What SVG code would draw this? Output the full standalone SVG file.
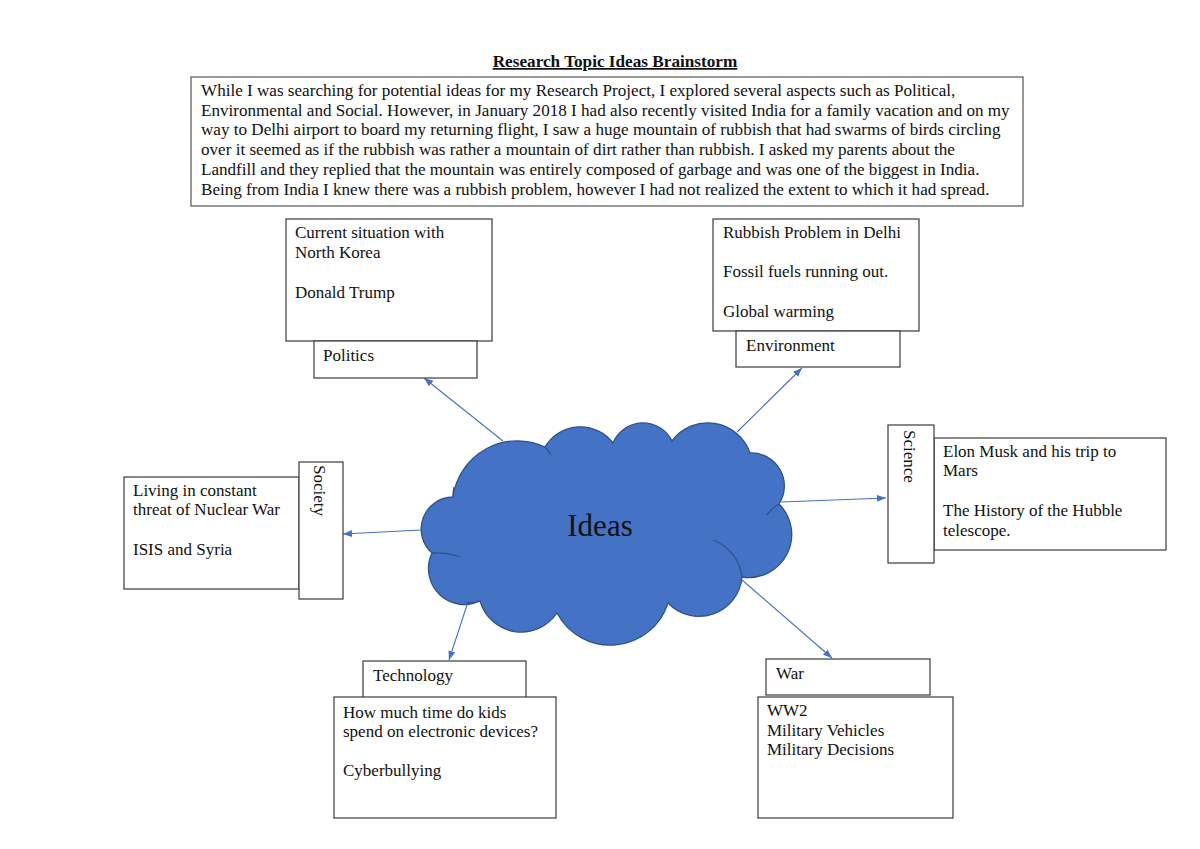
<svg xmlns="http://www.w3.org/2000/svg" width="1200" height="849" viewBox="0 0 1200 849">
<style>
text { font-family: "Liberation Serif", "Times New Roman", serif; font-size: 17px; fill: #111; }
.p { font-size: 17.1px; }
.box { fill: #fff; stroke: #3a3a3a; stroke-width: 1.2; }
.para { fill: #fff; stroke: #555; stroke-width: 1.2; }
.conn { stroke: #4472C4; stroke-width: 1.1; fill: none; marker-end: url(#arrow); }
.cloud { fill: #4472C4; stroke: #2F528F; stroke-width: 1.3; }
.inner { fill: none; stroke: #2F528F; stroke-width: 1.3; }
</style>
<defs>
<marker id="arrow" markerUnits="userSpaceOnUse" markerWidth="10" markerHeight="8" refX="9" refY="4" orient="auto">
<path d="M0,0.5 L9,4 L0,7.5 Z" fill="#4472C4"/>
</marker>
</defs>
<rect width="1200" height="849" fill="#fff"/>

<g id="title">
<text x="615" y="67" text-anchor="middle" font-weight="bold" text-decoration="underline" style="font-size:17.2px">Research Topic Ideas Brainstorm</text>
</g>

<g id="intro">
<rect class="para" x="191" y="77" width="832" height="129"/>
<text class="p" x="201" y="96">While I was searching for potential ideas for my Research Project, I explored several aspects such as Political,</text>
<text class="p" x="201" y="115.7">Environmental and Social. However, in January 2018 I had also recently visited India for a family vacation and on my</text>
<text class="p" x="201" y="135.4">way to Delhi airport to board my returning flight, I saw a huge mountain of rubbish that had swarms of birds circling</text>
<text class="p" x="201" y="155.1">over it seemed as if the rubbish was rather a mountain of dirt rather than rubbish. I asked my parents about the</text>
<text class="p" x="201" y="174.8">Landfill and they replied that the mountain was entirely composed of garbage and was one of the biggest in India.</text>
<text class="p" x="201" y="194.5">Being from India I knew there was a rubbish problem, however I had not realized the extent to which it had spread.</text>
</g>

<g id="ideas">
<path class="cloud" d="M 453 497 A 65 65 0 0 1 545 447 A 41 41 0 0 1 613 443 A 32.4 32.4 0 0 1 672 441 A 44.5 44.5 0 0 1 750 453 A 33 33 0 0 1 779 504 A 43 43 0 0 1 742 577 A 43 43 0 0 1 668 603 A 60.4 60.4 0 0 1 557 613 A 43 43 0 0 1 480 601 A 36 36 0 0 1 432 553 A 32 32 0 0 1 453 497 Z"/>
<path class="inner" d="M 432 553 Q 446 552 460 557"/>
<path class="inner" d="M 545 447 Q 548 450 551 455"/>
<path class="inner" d="M 779 504 Q 772 508 767 515"/>
<path class="inner" d="M 713 540 A 45 45 0 0 1 742 577"/>
<path class="inner" d="M 480 601 Q 474 603 467 603"/>
<path class="inner" d="M 453 497 Q 453 492 454 487"/>
<text x="600" y="536" text-anchor="middle" style="font-size:31px">Ideas</text>
</g>

<g id="connectors">
<line class="conn" x1="503" y1="441" x2="424" y2="378"/>
<line class="conn" x1="737" y1="432" x2="802" y2="368"/>
<line class="conn" x1="421" y1="530" x2="343" y2="534"/>
<line class="conn" x1="781" y1="502" x2="886" y2="498"/>
<line class="conn" x1="467" y1="605" x2="449" y2="660"/>
<line class="conn" x1="742" y1="580" x2="832" y2="658"/>
</g>

<g id="politics">
<rect class="box" x="286" y="219" width="206" height="122"/>
<text x="295" y="238">Current situation with</text>
<text x="295" y="258">North Korea</text>
<text x="295" y="298">Donald Trump</text>
<rect class="box" x="314" y="341" width="163" height="37"/>
<text x="323" y="361">Politics</text>
</g>

<g id="environment">
<rect class="box" x="713" y="219" width="206" height="112"/>
<text x="723" y="238">Rubbish Problem in Delhi</text>
<text x="723" y="277">Fossil fuels running out.</text>
<text x="723" y="317">Global warming</text>
<rect class="box" x="736" y="331" width="164" height="36"/>
<text x="746" y="351">Environment</text>
</g>

<g id="society">
<rect class="box" x="124" y="477" width="175" height="112"/>
<text x="133" y="496">Living in constant</text>
<text x="133" y="515">threat of Nuclear War</text>
<text x="133" y="555">ISIS and Syria</text>
<rect class="box" x="299" y="462" width="44" height="137"/>
<text transform="translate(314,465) rotate(90)">Society</text>
</g>

<g id="science">
<rect class="box" x="934" y="438" width="232" height="112"/>
<text x="943" y="457">Elon Musk and his trip to</text>
<text x="943" y="476">Mars</text>
<text x="943" y="516">The History of the Hubble</text>
<text x="943" y="536">telescope.</text>
<rect class="box" x="888" y="425" width="46" height="138"/>
<text transform="translate(904,430) rotate(90)">Science</text>
</g>

<g id="technology">
<rect class="box" x="363" y="661" width="163" height="37"/>
<text x="373" y="681">Technology</text>
<rect class="box" x="334" y="697" width="222" height="121"/>
<text x="343" y="718">How much time do kids</text>
<text x="343" y="737">spend on electronic devices?</text>
<text x="343" y="776">Cyberbullying</text>
</g>

<g id="war">
<rect class="box" x="766" y="659" width="164" height="36"/>
<text x="776" y="679">War</text>
<rect class="box" x="758" y="697" width="195" height="121"/>
<text x="767" y="716">WW2</text>
<text x="767" y="736">Military Vehicles</text>
<text x="767" y="755">Military Decisions</text>
</g>
</svg>
